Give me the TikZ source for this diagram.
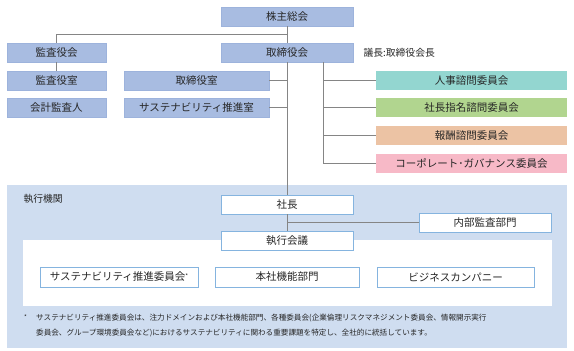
\documentclass[tikz,border=0pt]{standalone}
\usepackage{fontspec}
\setmainfont{Noto Sans CJK JP}
\definecolor{topfill}{HTML}{A8BCE1}
\definecolor{topdraw}{HTML}{9DB3DC}
\definecolor{tealfill}{HTML}{93D6D0}
\definecolor{greenfill}{HTML}{B1D58F}
\definecolor{peachfill}{HTML}{ECC3A4}
\definecolor{pinkfill}{HTML}{F7B9C7}
\definecolor{execbg}{HTML}{CFDDF0}
\definecolor{execdraw}{HTML}{85B4DF}
\definecolor{linegray}{HTML}{858585}
\definecolor{txt}{HTML}{262626}
\tikzset{
  box/.style={inner sep=0pt, outer sep=0pt, minimum height=19pt, font=\fontsize{10.5}{12}\selectfont, text=txt},
  topbox/.style={box, fill=topfill, draw=topdraw, line width=0.6pt},
  execbox/.style={box, fill=white, draw=execdraw, line width=0.8pt},
  conn/.style={draw=linegray, line width=0.9pt},
}
\begin{document}
\begin{tikzpicture}[x=1pt,y=-1pt]
\useasboundingbox (0,0) rectangle (574,351);
% executive area
\fill[execbg] (7,185) rectangle (567,348);
\fill[white] (23,240) rectangle (552,306);
\node[anchor=west, text=txt, font=\fontsize{9.8}{11}\selectfont] (shikkoukikan) at (20,199) {執行機関};
% top nodes
\node[topbox, minimum width=132pt] (kabu) at (287,16.5) {株主総会};
\node[topbox, minimum width=132pt] (torikai) at (287,52.5) {取締役会};
\node[anchor=west, text=txt, font=\fontsize{9.8}{11}\selectfont] (gicho) at (360,53) {議長:取締役会長};
\node[topbox, minimum width=99pt] (kansakai) at (56.5,52.5) {監査役会};
\node[topbox, minimum width=99pt] (kansashitsu) at (56.5,80.5) {監査役室};
\node[topbox, minimum width=99pt] (kaikei) at (56.5,107.5) {会計監査人};
\node[topbox, minimum width=145pt] (torishitsu) at (196.5,80.5) {取締役室};
\node[topbox, minimum width=145pt] (sustshitsu) at (196.5,107.5) {サステナビリティ推進室};
\node[box, fill=tealfill, minimum width=191pt] (jinji) at (471.5,80.5) {人事諮問委員会};
\node[box, fill=greenfill, minimum width=191pt] (shimei) at (471.5,107.5) {社長指名諮問委員会};
\node[box, fill=peachfill, minimum width=191pt] (hoshu) at (471.5,135.5) {報酬諮問委員会};
\node[box, fill=pinkfill, minimum width=191pt] (cg) at (471.5,163) {コーポレート･ガバナンス委員会};
% executive nodes
\node[execbox, minimum width=132pt] (shacho) at (287,204.5) {社長};
\node[execbox, minimum width=132pt] (shikkou) at (287,240.5) {執行会議};
\node[execbox, minimum width=132pt] (naibu) at (485,222.5) {内部監査部門};
\node[execbox, minimum width=158pt, minimum height=20pt] (sustiin) at (119,277) {サステナビリティ推進委員会\raisebox{0.5ex}{\fontsize{6}{6}\selectfont *}};
\node[execbox, minimum width=144pt, minimum height=20pt] (honsha) at (287,277) {本社機能部門};
\node[execbox, minimum width=157pt, minimum height=20pt] (biz) at (455.5,277) {ビジネスカンパニー};
% connectors
\coordinate (j1) at (287,34);
\coordinate (v2top) at (323,62);
\draw[conn] (kabu.south) -- (torikai.north);
\draw[conn] (j1) -| (kansakai.north);
\draw[conn] (kansakai.south) -- (kansashitsu.north);
\draw[conn] (torikai.south) -- (shacho.north);
\draw[conn] (shacho.south) -- (shikkou.north);
\draw[conn] (torishitsu.east) -- (torishitsu.east -| torikai.south);
\draw[conn] (sustshitsu.east) -- (sustshitsu.east -| torikai.south);
\draw[conn] (v2top) |- (cg.west);
\draw[conn] (v2top |- jinji.west) -- (jinji.west);
\draw[conn] (v2top |- shimei.west) -- (shimei.west);
\draw[conn] (v2top |- hoshu.west) -- (hoshu.west);
\draw[conn] (shacho.south |- naibu.west) -- (naibu.west);
% footnote
\node[anchor=north west, text=txt, font=\fontsize{6}{6}\selectfont, inner sep=0pt] (star) at (24,315) {*};
\node[anchor=north west, text=txt, font=\fontsize{7.6}{14.5}\selectfont, inner sep=0pt, align=left] (note) at (36,314) {サステナビリティ推進委員会は、注力ドメインおよび本社機能部門、各種委員会(企業倫理リスクマネジメント委員会、情報開示実行\\委員会、グループ環境委員会など)におけるサステナビリティに関わる重要課題を特定し、全社的に統括しています。};
\end{tikzpicture}
\end{document}
